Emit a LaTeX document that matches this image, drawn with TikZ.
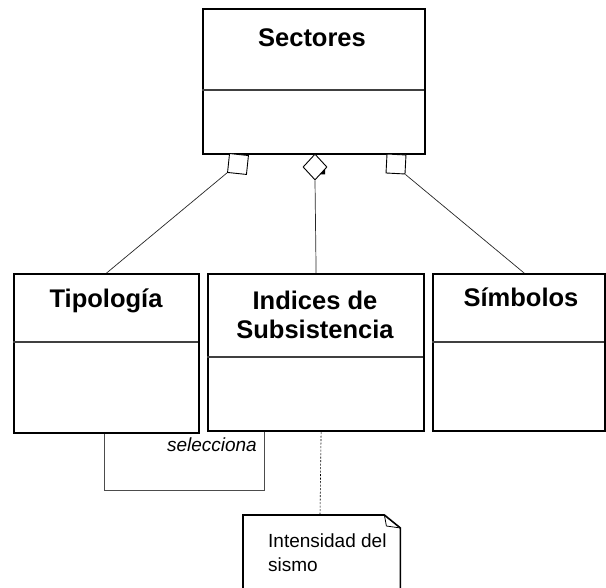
\documentclass[tikz,border=0pt]{standalone}
\usepackage{fontspec}
\setmainfont{Liberation Sans}
\usetikzlibrary{shapes.geometric}
\begin{document}
\begin{tikzpicture}[x=1pt,y=-1pt,
  classbox/.style={draw, line width=2.2pt, rectangle, inner sep=0pt, anchor=north west},
  title/.style={font=\fontsize{25.5}{29}\selectfont\bfseries, align=center, anchor=base, inner sep=0pt},
  divider/.style={line width=1.6pt, draw=black!75},
  conn/.style={line width=0.7pt, draw=black!85},
  aggsq/.style={draw, line width=0.9pt, fill=white, rectangle, minimum size=19pt, inner sep=0pt},
  aggdia/.style={draw, line width=0.9pt, fill=white, diamond, minimum width=24pt, minimum height=26pt, inner sep=0pt},
  smalltext/.style={font=\fontsize{19}{24}\selectfont, inner sep=0pt}]
\useasboundingbox (0,0) rectangle (606,588);
% class boxes
\node[classbox, minimum width=222pt, minimum height=145pt] (sec) at (202,8) {};
\node[classbox, minimum width=185pt, minimum height=159pt] (tip) at (13,273) {};
\node[classbox, minimum width=216pt, minimum height=157pt] (ind) at (207,273) {};
\node[classbox, minimum width=172pt, minimum height=157pt] (sim) at (432,273) {};
% titles
\node[title] (sect) at (312,47) {Sectores};
\node[title] (tipt) at (106,308) {Tipología};
\node[title] (indt) at (315,339) {Indices de\\Subsistencia};
\node[title] (simt) at (521,307) {Símbolos};
% dividers
\draw[divider] (202,90) -- (424,90);
\draw[divider] (13,342) -- (198,342);
\draw[divider] (207,357) -- (423,357);
\draw[divider] (432,342) -- (604,342);
% aggregation ends
\node[aggsq, rotate=-6] (lsq) at (238,164) {};
\node[aggdia] (dia) at (315,167) {};
\node[aggsq, rotate=-3] (rsq) at (396,164) {};
\fill (320.1,174.5) -- (325.2,169) -- (325.2,174.5) -- cycle;
\draw[conn] (lsq.south west) -- (tip.north);
\draw[conn] (dia.south) -- (ind.north);
\draw[conn] (rsq.south east) -- ([xshift=5pt]sim.north);
% selecciona loop
\draw[conn, line width=0.6pt, draw=black!70] ([xshift=-2.5pt]tip.south) -- ++(0,56) -| ([xshift=-52pt]ind.south);
\node[font=\fontsize{19}{22}\selectfont\itshape, anchor=base east, inner sep=0pt] (sel) at (257,452) {selecciona};
% note
\node[anchor=north west, minimum width=157pt, minimum height=90pt, inner sep=0pt] (note) at (243,515) {};
\draw[line width=1.6pt] (note.south west) -- (note.north west) -- ([xshift=-16pt]note.north east) -- ([yshift=-13pt]note.north east) -- (note.south east);
\draw[line width=0.8pt] ([xshift=-16pt]note.north east) -- ([xshift=-14pt,yshift=-11pt]note.north east) -- ([yshift=-13pt]note.north east);
\draw[line width=0.6pt, dash pattern=on 2pt off 1.5pt] ([xshift=5pt]ind.south) -- (note.north -| 320,0);
\node[smalltext, anchor=base west, align=left] (notet) at (268,571) {Intensidad del\\sismo};
\end{tikzpicture}
\end{document}
